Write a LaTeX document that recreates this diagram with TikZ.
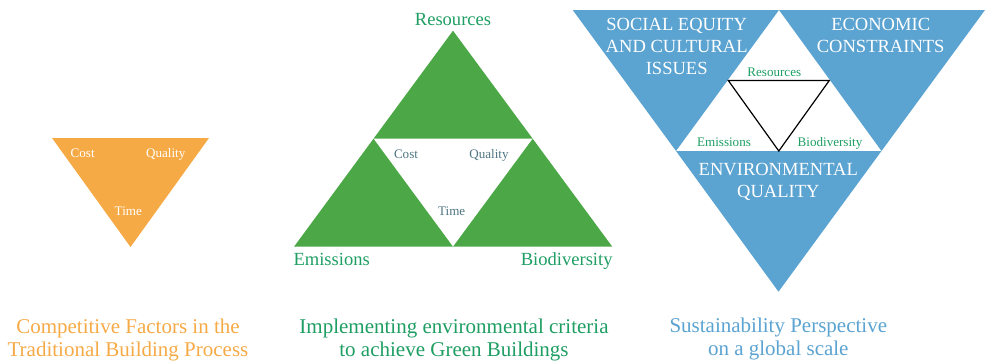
\documentclass[tikz,border=0pt]{standalone}
\usepackage{fontspec}
\setmainfont{Liberation Serif}
\definecolor{orangefill}{HTML}{F6AA46}
\definecolor{greenfill}{HTML}{4CA847}
\definecolor{greentext}{HTML}{1E9E63}
\definecolor{bluefill}{HTML}{5BA3D1}
\definecolor{graytext}{HTML}{4F7583}
\tikzset{
  caption/.style={inner sep=0pt, anchor=north, align=center, font=\fontsize{15.75}{16.9}\selectfont},
  biglabel/.style={inner sep=0pt, font=\fontsize{13.9}{16.3}\selectfont},
  smalllabel/.style={inner sep=0pt, anchor=base, font=\fontsize{9.8}{11}\selectfont},
}
\begin{document}
\begin{tikzpicture}[x=0.75pt,y=-0.75pt]
\useasboundingbox (0,0) rectangle (986,361);
% ---------- Left: orange triangle ----------
\coordinate (oA) at (52,138);
\coordinate (oB) at (209,138);
\coordinate (oC) at (130.5,247);
\fill[orangefill] (oA) -- (oB) -- (oC) -- cycle;
\node[smalllabel, white] (oCost) at (82.7,157.5) {Cost};
\node[smalllabel, white] (oQual) at (165.7,157.5) {Quality};
\node[smalllabel, white] (oTime) at (128.3,215) {Time};
\node[caption, text=orangefill] (oCap) at (128,319) {Competitive Factors in the\\Traditional Building Process};
% ---------- Middle: green triangles ----------
\coordinate (gTop) at (453,30.7);
\coordinate (gL) at (294,246.7);
\coordinate (gR) at (612.3,246.7);
\coordinate (gML) at (373.5,138.7);
\coordinate (gMR) at (532.7,138.7);
\coordinate (gMB) at (453,246.7);
\fill[greenfill] (gTop) -- (gMR) -- (gML) -- cycle;
\fill[greenfill] (gML) -- (gMB) -- (gL) -- cycle;
\fill[greenfill] (gMR) -- (gR) -- (gMB) -- cycle;
\node[biglabel, anchor=base, text=greentext] (gRes) at (453,25) {Resources};
\node[biglabel, anchor=base, text=greentext] (gEm) at (331.7,265) {Emissions};
\node[biglabel, anchor=base, text=greentext] (gBio) at (566.7,265) {Biodiversity};
\node[smalllabel, text=graytext] (gCost) at (406,158) {Cost};
\node[smalllabel, text=graytext] (gQual) at (489,158) {Quality};
\node[smalllabel, text=graytext] (gTime) at (451.7,215) {Time};
\node[caption, text=greentext] (gCap) at (454,319) {Implementing environmental criteria\\to achieve Green Buildings};
% ---------- Right: blue triangles ----------
\coordinate (bTL) at (572.7,10);
\coordinate (bTR) at (985,10);
\coordinate (bTM) at (779,10);
\coordinate (bB) at (778.5,291.7);
\coordinate (bML) at (676,151);
\coordinate (bMR) at (881.5,151);
\fill[bluefill] (bTL) -- (bTM) -- (bML) -- cycle;
\fill[bluefill] (bTM) -- (bTR) -- (bMR) -- cycle;
\fill[bluefill] (bML) -- (bMR) -- (bB) -- cycle;
\coordinate (kL) at (728.3,80.5);
\coordinate (kR) at (829.3,80.5);
\coordinate (kB) at (778.8,151);
\draw[black, line width=0.9pt, line join=miter] (kL) -- (kR) -- (kB) -- cycle;
\node[biglabel, anchor=north, align=center, white] (bSoc) at (676.7,18.4) {SOCIAL EQUITY\\AND CULTURAL\\ISSUES};
\node[biglabel, anchor=north, align=center, white] (bEco) at (880.7,18.4) {ECONOMIC\\CONSTRAINTS};
\node[biglabel, anchor=north, align=center, white] (bEnv) at (778.3,163.4) {ENVIRONMENTAL\\QUALITY};
\node[smalllabel, text=greentext] (bRes) at (774.3,76) {Resources};
\node[smalllabel, text=greentext] (bEm) at (724,146.7) {Emissions};
\node[smalllabel, text=greentext] (bBio) at (830,146.7) {Biodiversity};
\node[caption, text=bluefill] (bCap) at (778.3,318) {Sustainability Perspective\\on a global scale};
\end{tikzpicture}
\end{document}
